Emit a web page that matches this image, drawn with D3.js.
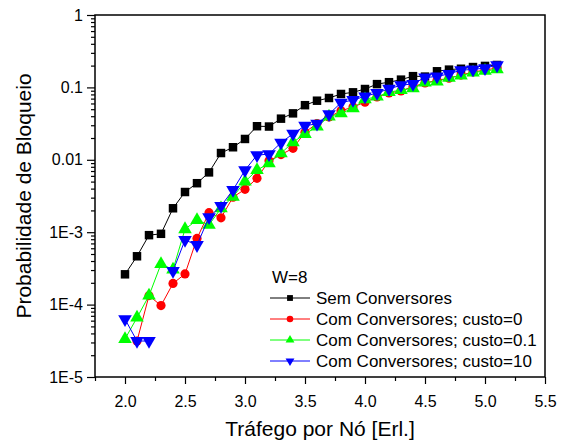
<!DOCTYPE html>
<html>
<head>
<meta charset="utf-8">
<script src="https://cdn.jsdelivr.net/npm/d3@7"></script>
<style>
  html, body { margin: 0; padding: 0; background: #fff; }
  svg { display: block; font-family: "Liberation Sans", Arial, sans-serif; }
</style>
</head>
<body>
<svg id="chart" width="565" height="443"></svg>
<script>
// ---- data ----
const trafego = [2.0, 2.1, 2.2, 2.3, 2.4, 2.5, 2.6, 2.7, 2.8, 2.9, 3.0, 3.1, 3.2, 3.3, 3.4, 3.5,
                 3.6, 3.7, 3.8, 3.9, 4.0, 4.1, 4.2, 4.3, 4.4, 4.5, 4.6, 4.7, 4.8, 4.9, 5.0, 5.1];
const semConversores = [2.62e-4, 4.65e-4, 9.1e-4, 9.5e-4, 2.14e-3, 3.59e-3, 4.75e-3, 6.7e-3, 0.0124, 0.0149,
                        0.0194, 0.0291, 0.0288, 0.037, 0.0438, 0.0568, 0.0655, 0.0714, 0.0811, 0.0855,
                        0.095, 0.111, 0.118, 0.128, 0.143, 0.141, 0.167, 0.176, 0.181, 0.191, 0.198, 0.204];
const custo0 = [null, 3.14e-5, 1.33e-4, 9.7e-5, 1.96e-4, 2.65e-4, 8.2e-4, 1.86e-3, 1.58e-3, 3.05e-3,
                3.91e-3, 5.55e-3, 9.7e-3, 0.0118, 0.0144, 0.024, 0.0317, 0.039, 0.0475, 0.0536,
                0.0625, 0.0736, 0.0837, 0.0892, 0.103, 0.115, 0.125, 0.134, 0.148, 0.163, 0.174, 0.185];
const custo01 = [3.35e-5, 6.6e-5, 1.33e-4, 3.64e-4, 3.05e-4, 1.1e-3, 1.47e-3, 1.26e-3, 2.14e-3, 3.09e-3,
                 4.99e-3, 7.2e-3, 8.95e-3, 0.0123, 0.0175, 0.0227, 0.0287, 0.0394, 0.0439, 0.0515,
                 0.0685, 0.0744, 0.0859, 0.092, 0.0972, 0.117, 0.12, 0.136, 0.146, 0.16, 0.169, 0.177];
const custo10 = [6.3e-5, 3.14e-5, 3.14e-5, null, 2.91e-4, 7.8e-4, 6.65e-4, 1.61e-3, 2.3e-3, 3.83e-3,
                 7.2e-3, 0.0116, 0.012, 0.0172, 0.0229, 0.0295, 0.0315, 0.0427, 0.0615, 0.067,
                 0.0753, 0.0837, 0.0957, 0.107, 0.112, 0.137, 0.1415, 0.154, 0.173, 0.177, 0.185, 0.202];
const seriesNames = ["Sem Conversores", "Com Conversores; custo=0", "Com Conversores; custo=0.1", "Com Conversores; custo=10"];
const legendTitle = "W=8";
const yTickValues = [1e-5, 1e-4, 1e-3, 0.01, 0.1, 1];
const yTickLabels = ["1E-5", "1E-4", "1E-3", "0.01", "0.1", "1"];
const xTickValues = [2.0, 2.5, 3.0, 3.5, 4.0, 4.5, 5.0, 5.5];
const xTitle = "Tráfego por Nó [Erl.]";
const yTitle = "Probabilidade de Bloqueio";

// ---- layout ----
const L = 95, R = 545, T = 15, B = 377;
const svg = d3.select("#chart");
const x = d3.scaleLinear().domain([1.75, 5.5]).range([L, R]);
const y = d3.scaleLog().domain([1e-5, 1]).range([B, T]);

// axes
const fontSize = 16;
const xMinor = d3.range(1.75, 5.5001, 0.25).filter(v => Math.abs((v * 2) - Math.round(v * 2)) > 1e-6);
const yMinor = [];
for (let e = -5; e < 0; e++) for (let k = 2; k <= 9; k++) yMinor.push(k * Math.pow(10, e));

const gx = svg.append("g").attr("transform", `translate(0,${B})`)
  .call(d3.axisBottom(x).tickValues(xTickValues).tickFormat(d3.format(".1f")).tickSize(7).tickSizeOuter(0).tickPadding(12));
const gxm = svg.append("g").attr("transform", `translate(0,${B})`)
  .call(d3.axisBottom(x).tickValues(xMinor).tickFormat("").tickSize(4).tickSizeOuter(0));
const gy = svg.append("g").attr("transform", `translate(${L},0)`)
  .call(d3.axisLeft(y).tickValues(yTickValues).tickFormat((d, i) => yTickLabels[i]).tickSize(8).tickSizeOuter(0).tickPadding(4));
const gym = svg.append("g").attr("transform", `translate(${L},0)`)
  .call(d3.axisLeft(y).tickValues(yMinor).tickFormat("").tickSize(4).tickSizeOuter(0));
[gx, gxm, gy, gym].forEach(g => {
  g.select(".domain").remove();
  g.selectAll("line").attr("stroke", "#000").attr("stroke-width", 1.2);
  g.selectAll("text").attr("fill", "#000").style("font-size", fontSize + "px")
    .style("font-family", "'Liberation Sans', Arial, sans-serif");
});

// frame
svg.append("rect").attr("x", L).attr("y", T).attr("width", R - L).attr("height", B - T)
  .attr("fill", "none").attr("stroke", "#000").attr("stroke-width", 1.5);

// titles
svg.append("text").attr("x", (L + R) / 2).attr("y", 436).attr("text-anchor", "middle")
  .style("font-size", "21px").text(xTitle);
svg.append("text").attr("transform", `translate(31,${(T + B) / 2}) rotate(-90)`).attr("text-anchor", "middle")
  .style("font-size", "21px").text(yTitle);

// series
const colors = ["#000000", "#ff0000", "#00ff00", "#0000ff"];
const symbols = [d3.symbolSquare, d3.symbolCircle, d3.symbolTriangle, d3.symbolTriangle];
const rotations = [0, 0, 0, 180];
const sizes = [72, 66, 80, 80];
const allSeries = [semConversores, custo0, custo01, custo10];

const line = d3.line().defined(d => d.v != null).x(d => x(d.t)).y(d => y(d.v));

allSeries.forEach((vals, si) => {
  const data = trafego.map((t, i) => ({ t, v: vals[i] }));
  const g = svg.append("g");
  g.append("path").datum(data).attr("d", line).attr("fill", "none")
    .attr("stroke", colors[si]).attr("stroke-width", 1);
  g.selectAll("path.m").data(data.filter(d => d.v != null)).enter().append("path")
    .attr("class", "m")
    .attr("d", d3.symbol().type(symbols[si]).size(sizes[si]))
    .attr("transform", d => `translate(${x(d.t)},${y(d.v)}) rotate(${rotations[si]})`)
    .attr("fill", colors[si]);
});

// legend
const lg = svg.append("g");
lg.append("text").attr("x", 272).attr("y", 283).style("font-size", "17px").text(legendTitle);
const rowY = [298, 319, 340, 361];
seriesNames.forEach((name, si) => {
  const yy = rowY[si];
  lg.append("line").attr("x1", 270).attr("x2", 310).attr("y1", yy).attr("y2", yy)
    .attr("stroke", colors[si]).attr("stroke-width", 1);
  lg.append("path").attr("d", d3.symbol().type(symbols[si]).size(34))
    .attr("transform", `translate(290,${yy}) rotate(${rotations[si]})`).attr("fill", colors[si]);
  lg.append("text").attr("x", 316).attr("y", yy + 6).style("font-size", "17px").text(name);
});
</script>
</body>
</html>
